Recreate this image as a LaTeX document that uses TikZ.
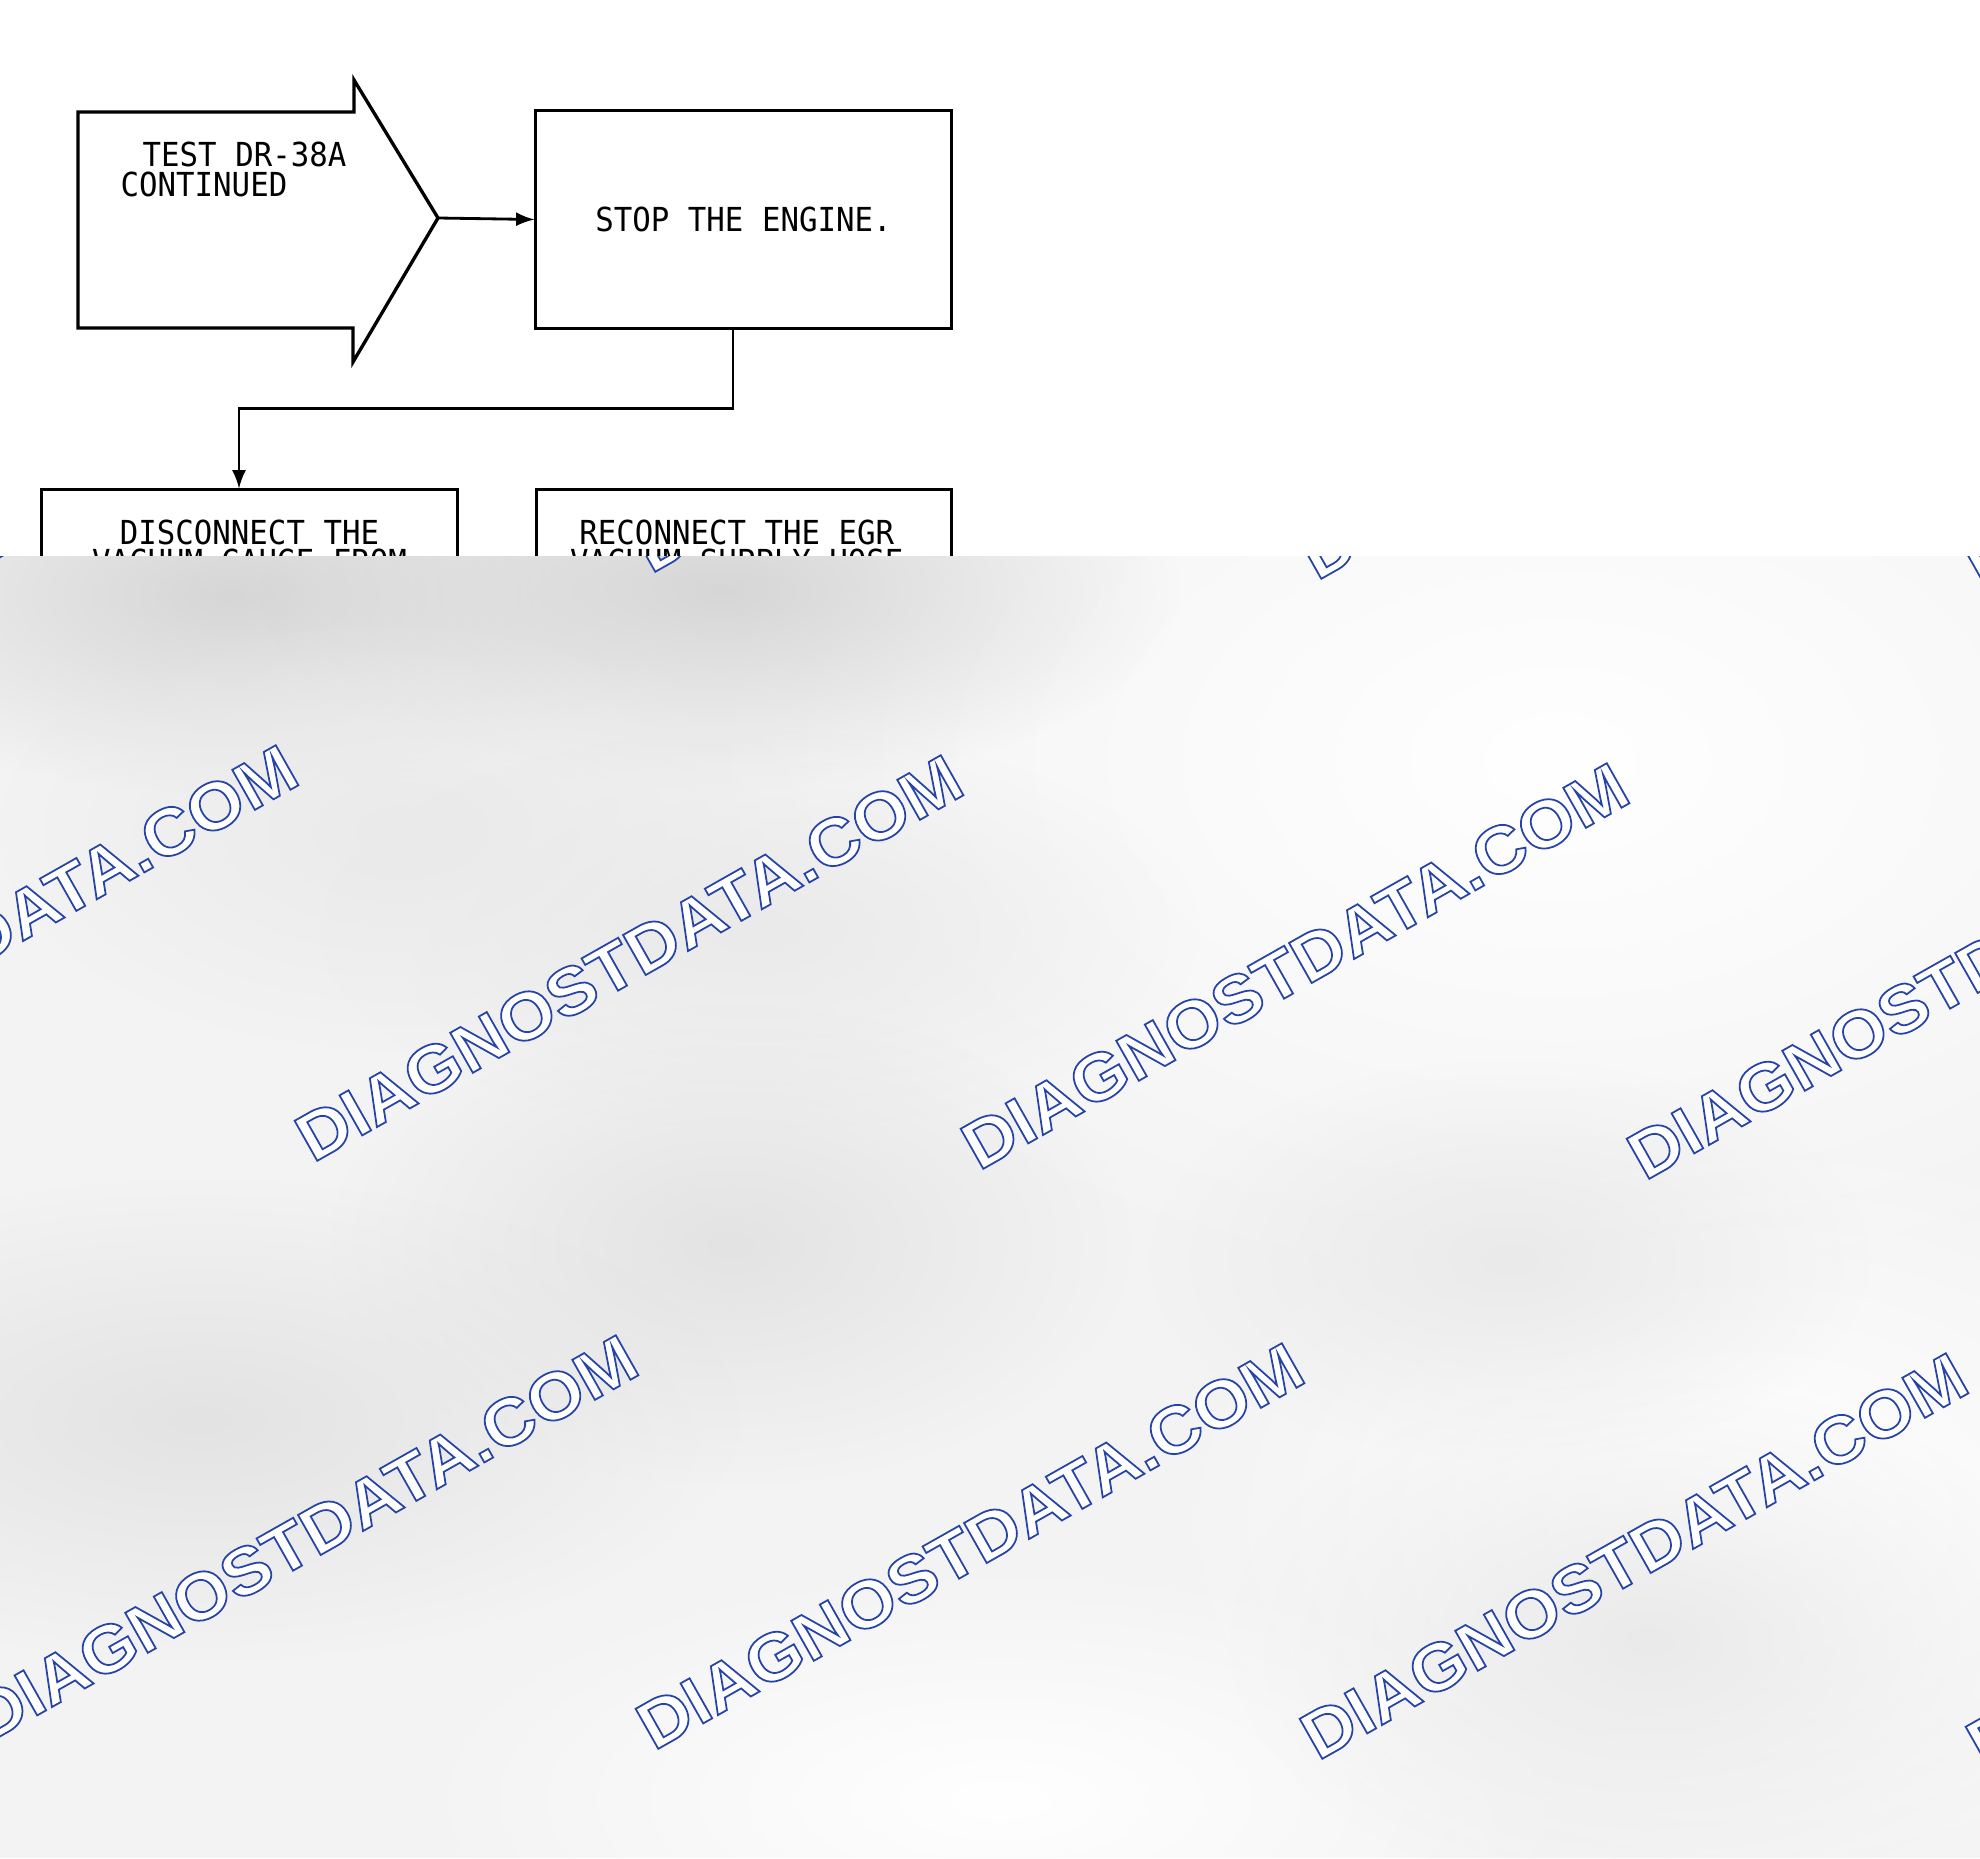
\documentclass[tikz,border=0pt]{standalone}
\usepackage{fontspec}
\newfontfamily\plotfont{DejaVu Sans Mono}[FakeStretch=0.93]
\newfontfamily\wmfont{Liberation Sans}[FakeStretch=1.07]
\usetikzlibrary{arrows,positioning,fadings}
\definecolor{wmblue}{RGB}{38,68,168}
\definecolor{bggray}{RGB}{243,243,243}
\definecolor{darkblob}{RGB}{214,214,214}
\definecolor{midblob}{RGB}{227,227,227}
\definecolor{lightblob}{RGB}{234,234,234}
\tikzfading[name=softblob, inner color=transparent!0, outer color=transparent!100]

% one watermark: white letters with a blue rim
\newcommand\wmark[1]{%
  \node[wmtext] at (#1) {\special{pdf:literal 2 Tr 0.5 w 0.149 0.267 0.659 RG}DIAGNOSTDATA.COM\special{pdf:literal 0 Tr}};}

\begin{document}
\begin{tikzpicture}[x=0.01cm,y=-0.01cm]
\tikzstyle{box}=[draw, line width=0.85pt, minimum width=4.15cm, inner sep=0pt,
	font=\plotfont\fontsize{9.4}{8.5}\selectfont, align=center]
\tikzstyle{plain}=[inner sep=0pt, font=\plotfont\fontsize{9.4}{8.5}\selectfont]
\tikzstyle{link}=[line width=0.8pt, -latex]
\tikzstyle{wmtext}=[font=\wmfont\bfseries\fontsize{19}{19}\selectfont, text=white, rotate=29.5, inner sep=0pt]
\tikzstyle{blob}=[path fading=softblob]
\useasboundingbox (0,0) rectangle (1980,1858);

% entry arrow
\draw[line width=0.95pt, line join=miter] (78,112) -- (354,112) -- (354,80) -- (438,218) coordinate (tip)
	-- (353,362) -- (353,328) -- (78,328) -- cycle;
\node[plain, anchor=north west, align=left] (title) at (120,141) {\hspace*{2.2mm}TEST DR-38A\\CONTINUED};

\node[box, minimum height=2.17cm] (stop) at (743.5,219.5) {STOP THE ENGINE.};
\node[box, minimum height=1.14cm] (disc) at (249.5,547) {DISCONNECT THE\\VACUUM GAUGE FROM};
\node[box, minimum height=1.14cm, right of=disc, node distance=4.94cm] (recon) {RECONNECT THE EGR\hspace*{1.4mm}\\VACUUM SUPPLY HOSE\hspace*{1.4mm}};

\draw[link] (tip) -- (stop.west);
\draw[link] ([xshift=-1.05mm]stop.south) -- ++(0,79) -| ([xshift=-1.05mm]disc.north);

% blurred cover with watermarks
\begin{scope}
\clip (0,556) rectangle (1980,1858);
\fill[bggray] (0,556) rectangle (1980,1858);
\fill[white, blob] (1560,760) ellipse (9cm and 5.6cm);
\fill[white, blob] (1750,1520) ellipse (6cm and 4cm);
\fill[white, blob] (1000,1800) ellipse (6cm and 2.4cm);
\fill[darkblob, blob] (230,595) ellipse (4.4cm and 2cm);
\fill[darkblob, blob] (720,590) ellipse (4.6cm and 2cm);
\fill[lightblob, blob] (400,830) ellipse (4cm and 2.2cm);
\fill[lightblob, blob] (760,930) ellipse (4.4cm and 2cm);
\fill[midblob, blob] (730,1245) ellipse (4cm and 2.4cm);
\fill[midblob, blob] (200,1420) ellipse (5.4cm and 2.4cm);
\fill[lightblob, blob] (1510,1260) ellipse (3.6cm and 2cm);
\fill[lightblob, blob] (1650,1640) ellipse (4.2cm and 2.6cm);
\wmark{302,360}
\wmark{967,369}
\wmark{1633,376}
\wmark{2298,385}
\wmark{-36,948}
\wmark{629,958}
\wmark{1295,966}
\wmark{1961,976}
\wmark{304,1538}
\wmark{970,1546}
\wmark{1634,1556}
\wmark{2300,1564}
\end{scope}

\end{tikzpicture}
\end{document}
